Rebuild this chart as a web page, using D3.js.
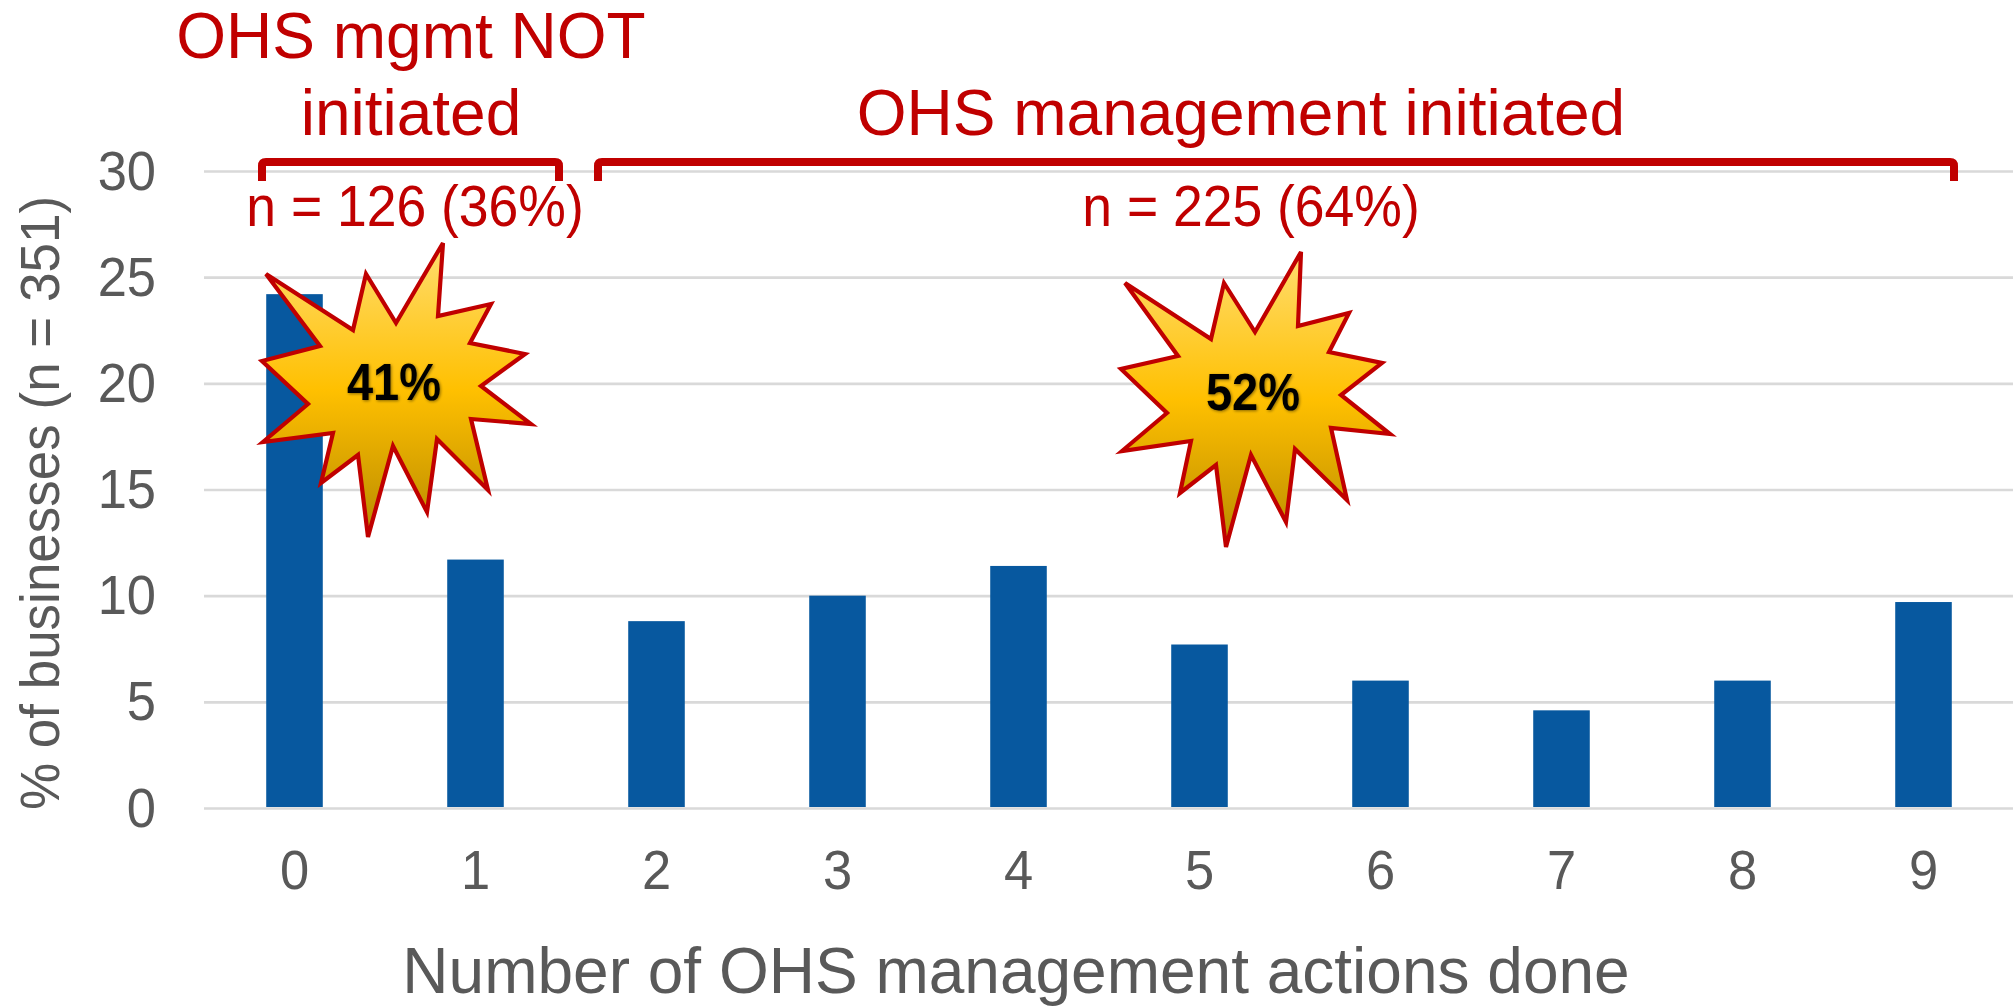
<!DOCTYPE html>
<html><head><meta charset="utf-8">
<script src="https://cdn.jsdelivr.net/npm/d3@7/dist/d3.min.js"></script>
<style>html,body{margin:0;padding:0;background:#fff;overflow:hidden}text{font-family:"Liberation Sans",Arial,sans-serif}</style>
</head><body><svg id="c" width="2013" height="1006"></svg>
<script>
const actions = ["0","1","2","3","4","5","6","7","8","9"];
const percentBusinesses = [24.2,11.7,8.8,10,11.4,7.7,6,4.6,6,9.7];
const yTicks = [0,5,10,15,20,25,30];
const RED="#c00000", GREY="#595959", GRID="#d9d9d9", BAR="#07589f";

const svg=d3.select("#c");
const defs=svg.append("defs");
const lg=defs.append("linearGradient").attr("id","burst").attr("x1",0).attr("x2",0).attr("y1",0).attr("y2",1);
[[0,"#ffdd71"],[0.5,"#ffc000"],[1,"#b88a00"]].forEach(s=>lg.append("stop").attr("offset",s[0]).attr("stop-color",s[1]));
const blur=defs.append("filter").attr("id","soft").attr("x","-20%").attr("y","-20%").attr("width","140%").attr("height","140%");
blur.append("feGaussianBlur").attr("stdDeviation",1.6);

const x=d3.scaleBand().domain(actions).range([204,2014]).paddingInner(0.6875).paddingOuter(0.34375);
const y=d3.scaleLinear().domain([0,30]).range([808,171]);

const yAxis=svg.append("g").attr("transform","translate(204,0)")
  .call(d3.axisLeft(y).tickValues(yTicks).tickSize(-1810).tickPadding(0));
yAxis.select(".domain").remove();
yAxis.selectAll(".tick line").attr("stroke",GRID).attr("stroke-width",2.6);
yAxis.selectAll(".tick text").attr("x",-48).attr("dy",17).attr("transform","scale(1,1.06)").attr("fill",GREY).attr("font-size",52.5).attr("text-anchor","end").style("font-family",'"Liberation Sans"');

svg.append("g").selectAll("rect").data(actions).join("rect")
  .attr("x",d=>x(d)).attr("width",x.bandwidth())
  .attr("y",(d,i)=>y(percentBusinesses[i])).attr("height",(d,i)=>y(0)-y(percentBusinesses[i])-1)
  .attr("fill",BAR);

const xAxis=svg.append("g").attr("transform","translate(0,808)")
  .call(d3.axisBottom(x).tickSize(0));
xAxis.select(".domain").remove();
xAxis.selectAll(".tick text").attr("y",0).attr("dy",76.4).attr("transform","scale(1,1.06)").attr("fill",GREY).attr("font-size",52.5).style("font-family",'"Liberation Sans"');

svg.append("text").attr("x",1016).attr("y",993).attr("text-anchor","middle").attr("fill",GREY).attr("font-size",64).text("Number of OHS management actions done");
svg.append("text").attr("transform","translate(59,503) rotate(-90) scale(1,1.06)").attr("text-anchor","middle").attr("fill",GREY).attr("font-size",53).text("% of businesses (n = 351)");

[[262,559],[598,1954]].forEach(b=>{
  svg.append("path").attr("d",`M${b[0]},181 V166 Q${b[0]},162 ${b[0]+4},162 H${b[1]-4} Q${b[1]},162 ${b[1]},166 V181`)
    .attr("fill","none").attr("stroke",RED).attr("stroke-width",8);
});

const red=(t,cx,by,fs,sy)=>svg.append("text").attr("transform",`translate(${cx},${by}) scale(1,${sy})`).attr("text-anchor","middle").attr("fill",RED).attr("font-size",fs).text(t);
red("OHS mgmt NOT",411,58,64,1);
red("initiated",411,135,64,1);
red("OHS management initiated",1241,135,64,1);
red("n = 126 (36%)",415,226,53.5,1.06);
red("n = 225 (64%)",1251,226,53.5,1.06);

const burstA=[[266,274],[353,330],[366,274],[396,323],[443,243],[438,316],[491,304],[470,343],[525,354],[481,386],[531,424],[471,419],[488,490],[437,439],[427,512],[393,446],[368,537],[358,455],[321,483],[333,433],[263,442],[308,404],[262,361],[320,346]];
const burstB=[[1125,283],[1211,339],[1224,283],[1255,332],[1301,252],[1298,326],[1349,313],[1329,352],[1382,363],[1341,395],[1390,434],[1331,428],[1347,500],[1295,449],[1286,522],[1251,455],[1226,547],[1216,465],[1180,493],[1191,441],[1122,451],[1167,413],[1121,369],[1178,356]];
[burstA,burstB].forEach(p=>{
  svg.append("polygon").attr("points",p.map(d=>d.join(",")).join(" "))
    .attr("fill","url(#burst)").attr("stroke",RED).attr("stroke-width",4.2).attr("stroke-linejoin","miter");
});
[["41%",394,400],["52%",1253,410]].forEach(l=>{
  svg.append("text").attr("transform",`translate(${l[1]+1},${l[2]+1}) scale(1,1.1)`).attr("text-anchor","middle").attr("font-size",47).attr("font-weight","bold").attr("fill","#000").attr("opacity",.45).attr("filter","url(#soft)").text(l[0]);
  svg.append("text").attr("transform",`translate(${l[1]},${l[2]}) scale(1,1.1)`).attr("text-anchor","middle").attr("font-size",47).attr("font-weight","bold").attr("fill","#000").text(l[0]);
});
</script></body></html>
